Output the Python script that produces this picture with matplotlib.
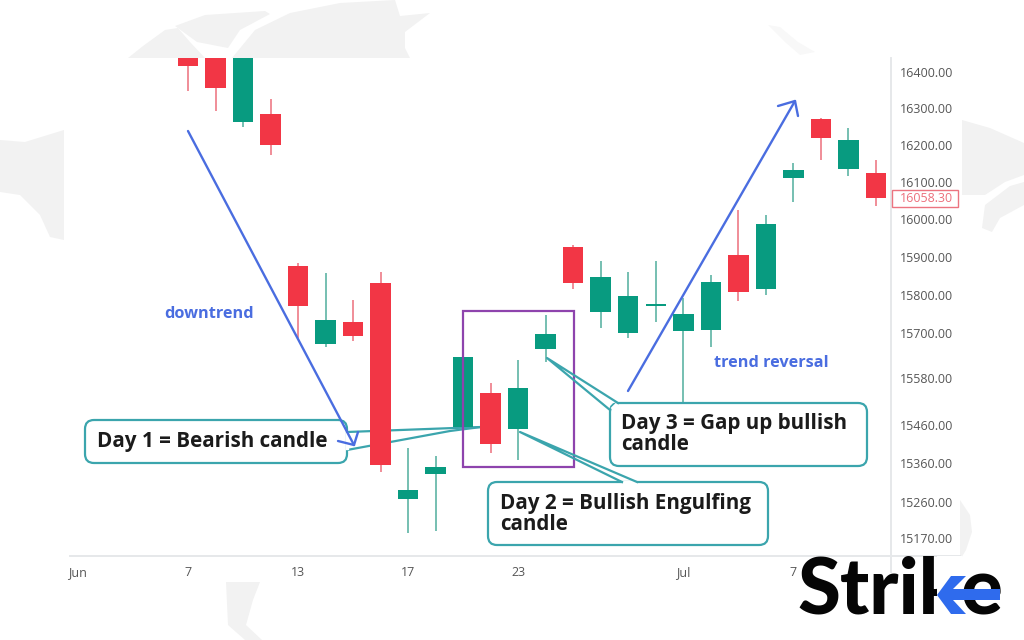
#!/usr/bin/env python3

from matplotlib import pyplot as plt
from matplotlib.patches import FancyBboxPatch, Polygon, Rectangle
from matplotlib.ticker import NullLocator

# candles, one per trading session
opens = [16445, 16450, 16264, 16284, 15876, 15671, 15729, 15832, 15269, 15332, 15455, 15543, 15450,
         15656, 15927, 15755, 15700, 15771, 15703, 15708, 15905, 15816, 16112, 16270, 16135, 16126]
closes = [16417, 16356, 16460, 16200, 15771, 15732, 15690, 15357, 15293, 15350, 15637, 15411, 15554,
          15697, 15832, 15847, 15797, 15776, 15750, 15834, 15808, 15989, 16134, 16219, 16213, 16058.30]
highs = [16470, 16480, 16490, 16325, 15884, 15858, 15787, 15861, 15401, 15380, 15650, 15567, 15627,
         15747, 15932, 15889, 15860, 15889, 15792, 15853, 16026, 16011, 16151, 16275, 16246, 16159]
lows = [16347, 16292, 16249, 16173, 15687, 15661, 15679, 15337, 15183, 15188, 15447, 15386, 15368,
        15622, 15816, 15711, 15687, 15729, 15517, 15663, 15784, 15800, 16047, 16160, 16116, 16035]

x_tick_pos = [-4, 0, 4, 8, 12, 18, 22]
x_tick_labels = ['Jun', '7', '13', '17', '23', 'Jul', '7']
y_ticks = [16400, 16300, 16200, 16100, 16000, 15900, 15800, 15700, 15580, 15460, 15360, 15260, 15170]
last_price = 16058.30

RED = '#f23645'
GREEN = '#089b80'
RED_WICK = '#ec6f7c'
GREEN_WICK = '#4fae9c'
BLUE = '#4a6de0'
TEAL = '#3ba5ad'
MAP = '#f2f2f2'
GRID = '#e6e8ea'
LABEL = '#565656'

plt.rcParams['font.family'] = ['Open Sans', 'DejaVu Sans']

fig = plt.figure(figsize=(10.24, 6.4), dpi=100, facecolor='white')

# full figure layers in pixel coordinates, for decoration and callouts
def pixelLayer(z):
    lay = fig.add_axes([0, 0, 1, 1], zorder=z)
    lay.set_xlim(0, 1024)
    lay.set_ylim(640, 0)
    lay.axis('off')
    return lay

back = pixelLayer(1)
ax = fig.add_axes([70 / 1024, 84 / 640, 821 / 1024, 498 / 640], zorder=2)
front = pixelLayer(3)

# world map in the background
map_shapes = [
    [(128, 58), (143, 46), (165, 30), (178, 28), (190, 42), (205, 58)],
    [(175, 26), (205, 15), (265, 11), (270, 14), (240, 30), (228, 48), (197, 42)],
    [(232, 58), (255, 30), (290, 13), (340, 3), (395, 0), (400, 16), (430, 13), (405, 32), (405, 48), (410, 58)],
    [(0, 140), (25, 142), (64, 130), (64, 240), (50, 237), (40, 215), (20, 195), (0, 192)],
    [(962, 120), (990, 128), (1024, 143), (1024, 175), (1005, 182), (985, 195), (962, 195)],
    [(1010, 186), (1024, 182), (1024, 205), (1000, 218), (992, 232), (982, 228), (985, 205)],
    [(226, 582), (260, 582), (253, 600), (246, 625), (262, 640), (245, 640), (228, 625)],
    [(960, 500), (970, 515), (972, 532), (966, 550), (960, 560)],
]
for shape in map_shapes:
    back.add_patch(Polygon(shape, closed=True, fc=MAP, ec='none'))
back.add_patch(Polygon([(768, 25), (780, 27), (798, 42), (815, 52), (800, 55), (785, 42)],
                       closed=True, fc='#f8f8f8', ec='none'))

# pointers of the first callout run behind the candles
back.plot([347, 481], [432, 427], color=TEAL, lw=1.6)
back.plot([347, 450, 481], [450, 431, 427], color=TEAL, lw=1.6)

# candles
for i in range(len(opens)):
    up = closes[i] >= opens[i]
    ax.vlines(i, lows[i], highs[i], color=GREEN_WICK if up else RED_WICK, lw=1.1, zorder=2)
    ax.bar(i, abs(closes[i] - opens[i]), 0.745, bottom=min(opens[i], closes[i]),
           color=GREEN if up else RED, zorder=3)

ax.set_yscale('log')
ax.set_xlim(-4.29, 25.55)
ax.set_ylim(15124, 16438)
ax.patch.set_alpha(0)
ax.yaxis.tick_right()
ax.yaxis.set_minor_locator(NullLocator())
ax.set_yticks(y_ticks)
ax.set_yticklabels(['%.2f' % t for t in y_ticks])
ax.set_xticks(x_tick_pos)
ax.set_xticklabels(x_tick_labels)
ax.tick_params(axis='both', length=0, labelsize=9, labelcolor=LABEL)
ax.tick_params(axis='y', pad=6.5)
ax.tick_params(axis='x', pad=7)
for side in ['left', 'top']:
    ax.spines[side].set_visible(False)
for side in ['bottom', 'right']:
    ax.spines[side].set_color(GRID)
    ax.spines[side].set_linewidth(1.4)

# axis rules run a little past the plot
front.plot([891, 960], [556, 556], color=GRID, lw=1.4)
front.plot([891, 891], [556, 572], color=GRID, lw=1.4)

# last price tag
front.add_patch(Rectangle((892, 190), 66, 17, fc='white', ec='#ec7480', lw=1))
front.text(900, 198.5, '%.2f' % last_price, color='#ec6f7c', fontsize=9, va='center', ha='left')

# pattern box
front.add_patch(Rectangle((463, 311), 111, 156, fc='none', ec='#8e44ad', lw=1.6))

# callouts
def callout(x0, y0, x1, y1):
    front.add_patch(FancyBboxPatch((x0 + 9, y0 + 9), x1 - x0 - 18, y1 - y0 - 18,
                                   boxstyle='round,pad=9,rounding_size=9',
                                   fc='white', ec=TEAL, lw=1.6, mutation_aspect=1))

callout(85, 420, 347, 463)
callout(488, 482, 768, 545)
callout(610, 403, 867, 466)

# open the box edges where the pointers join
front.plot([347, 347], [434, 448], color='white', lw=2.4)
front.plot([624, 635], [482, 482], color='white', lw=2.4)
front.plot([613, 616], [408, 405], color='white', lw=2.4)

front.plot([622, 520, 637], [482, 432, 482], color=TEAL, lw=1.6)
front.plot([618, 547, 610], [403, 358, 410], color=TEAL, lw=1.6)

TEXT_DARK = '#1b1b1b'
CALLOUT_SIZE = 14.9
front.text(97, 442, 'Day 1 = Bearish candle', color=TEXT_DARK, fontsize=CALLOUT_SIZE, weight='bold', va='center')
front.text(500, 504, 'Day 2 = Bullish Engulfing', color=TEXT_DARK, fontsize=CALLOUT_SIZE, weight='bold', va='center')
front.text(500, 525, 'candle', color=TEXT_DARK, fontsize=CALLOUT_SIZE, weight='bold', va='center')
front.text(621, 424, 'Day 3 = Gap up bullish', color=TEXT_DARK, fontsize=CALLOUT_SIZE, weight='bold', va='center')
front.text(621, 445, 'candle', color=TEXT_DARK, fontsize=CALLOUT_SIZE, weight='bold', va='center')

front.text(164, 314, 'downtrend', color=BLUE, fontsize=11.7, weight='bold', va='center')
front.text(714, 363, 'trend reversal', color=BLUE, fontsize=11.7, weight='bold', va='center')

# trend arrows
front.plot([188, 354], [131, 445], color=BLUE, lw=1.7, solid_capstyle='round')
front.plot([338, 354, 358], [441, 445, 432], color=BLUE, lw=1.7, solid_capstyle='round', solid_joinstyle='round')
front.plot([628, 795], [391, 101], color=BLUE, lw=1.7, solid_capstyle='round')
front.plot([778, 795, 798], [106, 101, 116], color=BLUE, lw=1.7, solid_capstyle='round', solid_joinstyle='round')

# logo, the arms of the k give way to a blue arrow
front.text(797, 614, 'Strike', color='#050505', fontsize=56, weight='black', va='baseline', ha='left',
           family=['Lato', 'DejaVu Sans'])
front.add_patch(Rectangle((937, 556), 25, 60, fc='white', ec='none', zorder=5))
front.add_patch(Polygon([(937, 595), (951, 576), (966, 576), (953, 589), (1000, 589), (1000, 600),
                         (953, 600), (966, 614), (951, 614)], closed=True, fc='#2f6bed', ec='none', zorder=6))

fig.savefig('out.png', dpi=100)
